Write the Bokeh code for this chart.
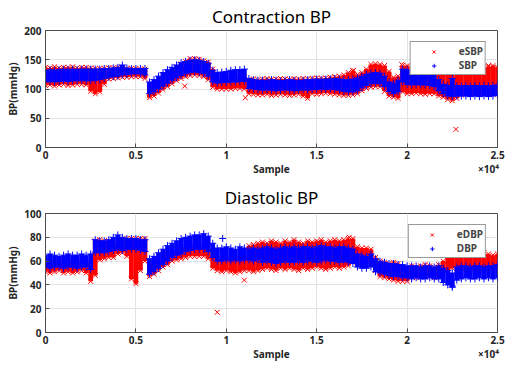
from bokeh.plotting import figure
from bokeh.layouts import column
from bokeh.models import Range1d, FixedTicker, Legend, LegendItem, LinearAxis
from bokeh.embed import file_html
from bokeh.resources import INLINE

# ---------------- data ----------------
sample = list(range(0, 25001, 250))
x_ticks = [0, 5000, 10000, 15000, 20000, 25000]
x_tick_labels = ["0", "0.5", "1", "1.5", "2", "2.5"]
# second text row under the x axis: axis name in the middle, exponent at the end
x_note_pos = [12500, 24500]
x_note_labels = ["Sample", "×10⁴"]
sbp_ticks = [0, 50, 100, 150, 200]
dbp_ticks = [0, 20, 40, 60, 80, 100]

sbp_lo = [112, 113, 112, 113, 114, 113, 114, 114, 115, 114,
          114, 115, 116, 118, 120, 121, 122, 124, 125, 126, 126, 126,
          124,
          92, 95, 100, 105, 110, 115, 119, 123, 126, 128, 129, 128, 126, 122,
          112, 110, 111, 111, 112, 112, 113, 113,
          101, 100, 99,
          98, 99, 98, 97, 98, 99, 98, 97, 98, 99, 98,
          99, 99, 100, 99, 100, 99, 98, 96, 95,
          95, 97, 102, 106, 109, 110, 109, 104, 96, 92, 95,
          112, 108, 107, 108, 107, 107, 106, 104,
          97, 92, 88, 87, 88, 88,
          88, 87, 88, 87, 88, 87, 88, 89]
sbp_hi = [132, 133, 132, 133, 134, 133, 134, 133, 134, 134,
          134, 134, 134, 135, 135, 136, 137, 141, 136, 135, 135, 135,
          135,
          112, 116, 122, 128, 133, 137, 141, 145, 147, 149, 150, 149, 147, 144,
          132, 128, 129, 130, 132, 133, 133, 134,
          118, 116, 115,
          115, 114, 116, 115, 114, 115, 116, 115, 114, 115, 116,
          116, 117, 116, 117, 117, 118, 117, 116, 116,
          117, 119, 122, 125, 127, 128, 127, 122, 112, 110, 115,
          134, 133, 131, 132, 131, 132, 131, 130,
          116, 108, 106, 118, 106, 105,
          106, 105, 106, 105, 106, 105, 106, 107]
esbp_lo = [106, 107, 105, 107, 108, 106, 107, 108, 108, 107,
           96, 92, 95, 108, 117, 118, 119, 120, 120, 121, 121, 121,
           118,
           85, 88, 93, 99, 104, 109, 114, 118, 121, 123, 124, 123, 121, 116,
           103, 100, 100, 100, 100, 101, 101, 100,
           92, 91, 90,
           90, 91, 89, 90, 91, 90, 89, 90, 91, 88, 84,
           92, 91, 92, 93, 92, 91, 90, 89, 89,
           90, 92, 97, 101, 103, 104, 104, 96, 88, 86, 84,
           95, 92, 92, 93, 92, 91, 92, 92,
           88, 86, 82, 80, 84, 90,
           92, 93, 91, 92, 93, 92, 91, 92]
esbp_hi = [137, 136, 138, 136, 137, 137, 138, 136, 137, 137,
           136, 135, 135, 135, 136, 136, 137, 137, 135, 135, 135, 134,
           134,
           108, 112, 117, 122, 128, 133, 138, 143, 147, 152, 152, 151, 148, 146,
           134, 117, 118, 119, 119, 120, 120, 120,
           116, 117, 116,
           117, 118, 116, 117, 118, 117, 116, 118, 117, 118, 117,
           118, 119, 118, 119, 120, 121, 122, 124, 128,
           131, 125, 128, 134, 142, 143, 142, 140, 130, 120, 122,
           140, 140, 138, 139, 138, 138, 138, 137,
           132, 135, 137, 135, 136, 137,
           137, 138, 136, 138, 137, 138, 140, 137]
esbp_out_x = [7700, 11050, 17050, 19700, 22700, 24500]
esbp_out_y = [105, 85, 132, 142, 31, 140]
sbp_out_x = []
sbp_out_y = []

dbp_lo = [55, 54, 55, 55, 54, 55, 55, 54, 55, 55,
          53,
          67, 67, 67, 68, 69, 70, 69, 70, 70, 70, 69,
          68,
          49, 51, 54, 57, 60, 63, 65, 66, 68, 69, 70, 70, 70, 68,
          63, 60,
          60, 61, 60, 61, 60, 61,
          61, 60, 61,
          59, 60, 59, 58, 59, 60, 59, 59, 60, 59, 60, 60, 59, 60, 61, 60, 60, 59, 60, 59,
          58, 55, 54, 54, 55, 51, 50, 49, 48, 47, 47,
          46, 46,
          45, 46, 45, 45, 46, 45, 45,
          42, 40, 38, 44,
          45, 46, 45, 45, 46, 45, 46, 45, 46]
dbp_hi = [65, 66, 65, 64, 65, 66, 65, 65, 66, 65,
          66,
          78, 77, 77, 78, 80, 82, 80, 79, 79, 79, 78,
          78,
          62, 64, 67, 70, 73, 75, 77, 79, 80, 81, 82, 82, 83, 81,
          75, 71,
          71, 72, 71, 70, 72, 71,
          70, 71, 70,
          71, 72, 71, 70, 71, 72, 71, 72, 71, 72, 72, 71, 72, 73, 72, 72, 71, 72, 72, 71,
          70, 66, 65, 64, 66, 62, 60, 59, 58, 58, 57,
          57, 56,
          56, 56, 55, 56, 56, 55, 56,
          54, 52, 50, 55,
          56, 56, 55, 56, 56, 55, 56, 56, 57]
edbp_lo = [51, 50, 51, 52, 50, 51, 50, 51, 52, 50,
           43,
           48, 61, 62, 63, 63, 66, 67, 64, 45, 41, 52,
           60,
           47, 49, 52, 55, 57, 60, 61, 62, 63, 64, 64, 64, 64, 62,
           54, 52,
           51, 52, 51, 50, 51, 52,
           52, 51, 52,
           53, 54, 53, 52, 54, 53, 54, 53, 52, 54, 53, 54, 55, 54, 53, 54, 55, 54, 55, 56,
           59, 58, 59, 60, 58, 52, 47, 46, 45, 44, 43,
           43, 43,
           47, 46, 47, 48, 47, 46, 47,
           50, 52, 54, 55,
           54, 55, 54, 55, 54, 55, 54, 55, 54]
edbp_hi = [59, 60, 58, 60, 59, 58, 60, 59, 58, 59,
           59,
           77, 78, 77, 77, 76, 75, 74, 79, 79, 79, 79,
           79,
           60, 60, 62, 65, 67, 68, 70, 70, 71, 72, 72, 72, 72, 71,
           63, 62,
           62, 61, 62, 61, 62, 62,
           73, 74, 75,
           76, 75, 77, 76, 75, 77, 76, 78, 76, 75, 77, 76, 77, 78, 76, 77, 78, 77, 78, 79,
           79, 72, 71, 71, 70, 63, 60, 59, 58, 59, 58,
           55, 53,
           56, 55, 56, 57, 56, 55, 57,
           60, 64, 66, 67,
           66, 67, 66, 65, 66, 67, 66, 65, 66]
edbp_out_x = [9500, 11000, 16800]
edbp_out_y = [17, 44, 80]
dbp_out_x = [9800, 22500]
dbp_out_y = [79, 39]

# ---------------- styling ----------------
RED = "#ff0000"
BLUE = "#0000ff"
FONT = "Noto Sans"
AX = "#4d4d4d"
TXT = "#262626"


def style_text(ax, size="10px", style="bold"):
    ax.major_label_text_font = FONT
    ax.major_label_text_font_size = size
    ax.major_label_text_font_style = style
    ax.major_label_text_color = TXT
    ax.axis_label_text_font = FONT
    ax.axis_label_text_font_size = size
    ax.axis_label_text_font_style = style
    ax.axis_label_text_color = TXT


def make_panel(title, ymax, yticks, e_lo, e_hi, lo, hi, eox, eoy, box, boy,
               lab_e, lab, fh, btop, tstand, bbot):
    p = figure(frame_width=452, frame_height=fh, output_backend="svg",
               toolbar_location=None,
               x_range=Range1d(0, 25000), y_range=Range1d(0, ymax),
               min_border_left=45, min_border_right=8,
               min_border_top=btop, min_border_bottom=bbot,
               background_fill_color="white", border_fill_color="white")
    p.title.text = title
    p.title.align = "center"
    p.title.text_font = FONT
    p.title.text_font_size = "17px"
    p.title.text_font_style = "normal"
    p.title.text_color = "#000000"
    p.title.standoff = tstand

    p.vbar(x=sample, width=262, bottom=e_lo, top=e_hi, fill_color=RED,
           line_color=None)
    r_e = p.scatter(sample + sample + eox, e_lo + e_hi + eoy, marker="x",
                    size=7, line_color=RED, line_width=1)
    p.vbar(x=sample, width=262, bottom=lo, top=hi, fill_color=BLUE,
           line_color=None)
    r_b = p.scatter(sample + sample + box, lo + hi + boy, marker="cross",
                    size=7, line_color=BLUE, line_width=1)

    leg = Legend(items=[LegendItem(label=lab_e, renderers=[r_e]),
                        LegendItem(label=lab, renderers=[r_b])],
                 location="top_right", margin=11, padding=2, spacing=0,
                 glyph_width=42, glyph_height=11, label_height=11,
                 label_standoff=4, label_text_font=FONT,
                 label_text_font_size="10px", label_text_font_style="bold",
                 border_line_color="#333333", border_line_width=1,
                 background_fill_color="white", background_fill_alpha=1)
    p.add_layout(leg)

    p.xaxis.ticker = FixedTicker(ticks=x_ticks)
    p.xaxis.major_label_overrides = dict(zip(x_ticks, x_tick_labels))
    p.yaxis.ticker = FixedTicker(ticks=yticks)
    p.yaxis.axis_label = "BP(mmHg)"
    for ax in (p.xaxis, p.yaxis):
        ax.axis_line_color = AX
        ax.major_tick_line_color = AX
        ax.major_tick_in = 4
        ax.major_tick_out = 0
        ax.minor_tick_line_color = None
        style_text(ax)
    p.xaxis.major_label_standoff = 3
    p.yaxis.major_label_standoff = 4
    p.yaxis.axis_label_standoff = 1

    # text row under the tick labels: "Sample" centred, "x10^4" at the end
    note = LinearAxis(ticker=FixedTicker(ticks=x_note_pos),
                      major_label_overrides=dict(zip(x_note_pos, x_note_labels)),
                      axis_line_color=None, major_tick_line_color=None,
                      minor_tick_line_color=None, major_tick_in=0,
                      major_tick_out=0, major_label_standoff=0)
    style_text(note)
    p.add_layout(note, "below")

    p.xgrid.ticker = FixedTicker(ticks=x_ticks)
    p.ygrid.ticker = FixedTicker(ticks=yticks)
    p.grid.grid_line_color = "#e2e2e2"
    p.outline_line_color = AX
    p.outline_line_alpha = 1
    return p


p1 = make_panel("Contraction BP", 200, sbp_ticks, esbp_lo, esbp_hi, sbp_lo,
                sbp_hi, esbp_out_x, esbp_out_y, sbp_out_x, sbp_out_y,
                "eSBP", "SBP", 117, 30, 5, 32)
p2 = make_panel("Diastolic BP", 100, dbp_ticks, edbp_lo, edbp_hi, dbp_lo,
                dbp_hi, edbp_out_x, edbp_out_y, dbp_out_x, dbp_out_y,
                "eDBP", "DBP", 119, 34, 9, 30)

layout = column(p1, p2)
open("out.html", "w").write(file_html(layout, INLINE))
